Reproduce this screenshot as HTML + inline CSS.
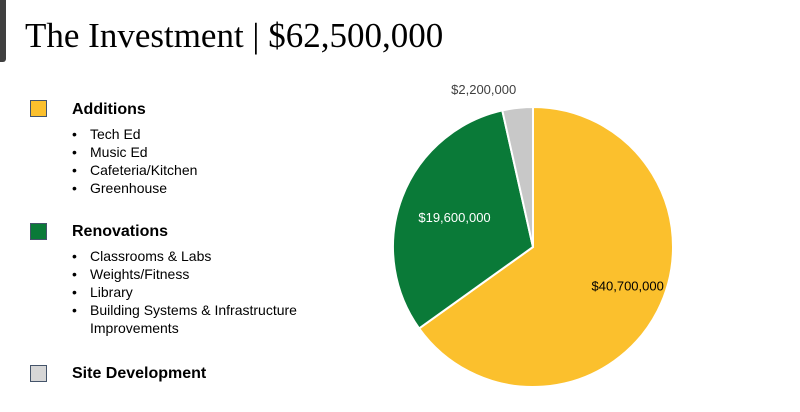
<!DOCTYPE html>
<html><head><meta charset="utf-8"><style>
body{margin:0;width:800px;height:412px;background:#fff;position:relative;overflow:hidden;font-family:"Liberation Sans",sans-serif}
.abs{position:absolute}
.sq{position:absolute;left:30px;width:15px;height:15px;border:1px solid #44546a}
.hd{position:absolute;left:72px;font-weight:bold;font-size:16px;color:#000}
ul{position:absolute;left:72px;margin:0;padding:0;list-style:none;font-size:14px;line-height:18px;color:#000}
li{padding-left:18px;position:relative}
li:before{content:"•";position:absolute;left:0}
</style></head><body>
<div class="abs" style="left:0;top:0;width:6px;height:62px;background:#404040;border-radius:0 0 3px 0"></div>
<div class="abs" style="left:25px;top:16px;font-family:'Liberation Serif',serif;font-size:35px;color:#000">The Investment | $62,500,000</div>

<div class="sq" style="top:100px;background:#fbc02d"></div>
<div class="hd" style="top:101px">Additions</div>
<ul style="top:125px"><li>Tech Ed</li><li>Music Ed</li><li>Cafeteria/Kitchen</li><li>Greenhouse</li></ul>

<div class="sq" style="top:223px;background:#0a7a38"></div>
<div class="hd" style="top:223px">Renovations</div>
<ul style="top:247px"><li>Classrooms &amp; Labs</li><li>Weights/Fitness</li><li>Library</li><li>Building Systems &amp; Infrastructure<br>Improvements</li></ul>

<div class="sq" style="top:365px;background:#d6d6d6"></div>
<div class="hd" style="top:365px">Site Development</div>

<svg class="abs" style="left:0;top:0" width="800" height="412" id="pie"></svg>
<script>
const categories=["Additions","Renovations","Site Development"];
const values=[40700000,19600000,2200000];
const labels=["$40,700,000","$19,600,000","$2,200,000"];
const colors=["#fbc02d","#0a7a38","#c8c8c8"];
const labelColors=["#000","#fff","#404040"];
const svg=document.getElementById('pie');
const NS="http://www.w3.org/2000/svg";
const cx=533,cy=247,r=140;
const total=values.reduce((a,b)=>a+b,0);
let a0=0;
const pt=(a,rr)=>[cx+rr*Math.sin(a),cy-rr*Math.cos(a)];
values.forEach((v,i)=>{
  const a1=a0+v/total*2*Math.PI;
  const p0=pt(a0,r),p1=pt(a1,r);
  const path=document.createElementNS(NS,'path');
  path.setAttribute('d',`M${cx},${cy}L${p0[0]},${p0[1]}A${r},${r} 0 ${a1-a0>Math.PI?1:0} 1 ${p1[0]},${p1[1]}Z`);
  path.setAttribute('fill',colors[i]);
  path.setAttribute('stroke','#fff');
  path.setAttribute('stroke-width','2');
  
  
  svg.appendChild(path);
  const mid=(a0+a1)/2;
  const lr=(i===2)?r+12:r*0.6;
  const lp=pt(mid,lr);
  const t=document.createElementNS(NS,'text');
  t.setAttribute('x',lp[0]+(i===0?20:0));
  t.setAttribute('y',lp[1]+(i===2?-2:5));
  t.setAttribute('text-anchor',i===2?'end':'middle');
  t.setAttribute('font-size','13');
  t.setAttribute('font-family','Liberation Sans, sans-serif');
  t.setAttribute('fill',labelColors[i]);
  
  
  t.textContent=labels[i];
  svg.appendChild(t);
  a0=a1;
});
</script>
</body></html>
